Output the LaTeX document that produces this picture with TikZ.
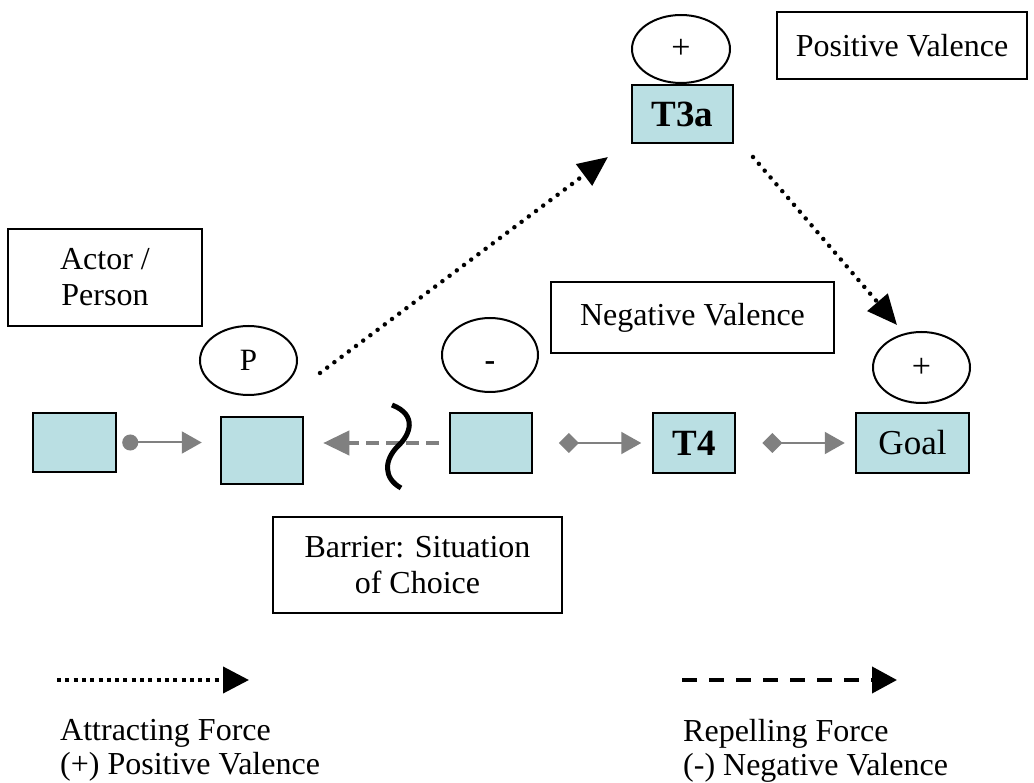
\documentclass[tikz,border=0pt]{standalone}
\usepackage{fontspec}
\setmainfont{Liberation Serif}
\usetikzlibrary{arrows.meta,shapes.geometric}
\definecolor{boxblue}{RGB}{186,223,227}
\definecolor{arrgray}{RGB}{128,128,128}
\tikzset{graytip/.tip={Triangle[length=20pt,width=22pt]}}
\begin{document}
\begin{tikzpicture}[x=1pt,y=-1pt,
  font=\fontsize{32}{36}\selectfont,
  bluebox/.style={draw=black, line width=2.5pt, fill=boxblue, inner sep=0pt, anchor=center},
  boldlabel/.style={font=\fontsize{37}{42}\selectfont\bfseries},
  textbox/.style={draw=black, line width=2pt, inner sep=0pt, align=center},
  valence/.style={ellipse, draw=black, line width=2pt, inner sep=0pt},
  grayline/.style={draw=arrgray, line width=2pt},
  dotarrow/.style={line width=4.5pt, line cap=round, dash pattern=on 0pt off 9pt, -{Triangle[length=30pt,width=26pt]}},
  legtext/.style={anchor=north west, inner sep=0pt, align=left, font=\fontsize{32}{34}\selectfont}
]
\fill[white] (0,0) rectangle (1034,783);
\useasboundingbox (0,0) rectangle (1034,783);

% row of boxes
\node[bluebox, minimum width=83pt, minimum height=59pt] (b0) at (74.5,442.5) {};
\node[bluebox, minimum width=82pt, minimum height=67pt] (bP) at (262,450.5) {};
\node[bluebox, minimum width=82pt, minimum height=60pt] (b3) at (491,443) {};
\node[bluebox, minimum width=82pt, minimum height=60pt, boldlabel] (bT4) at (694,443) {T4};
\node[bluebox, minimum width=113pt, minimum height=60pt, font=\fontsize{35}{40}\selectfont] (bGoal) at (912.5,443) {Goal};
\node[bluebox, minimum width=101pt, minimum height=58pt, boldlabel] (bT3a) at (682.5,114) {T3a};

% valence ellipses
\node[valence, minimum width=98pt, minimum height=68pt, font=\fontsize{34}{38}\selectfont] (eT3a) at (681,49) {+};
\node[valence, minimum width=97pt, minimum height=69pt, font=\fontsize{31}{36}\selectfont] (eP) at (248.5,360.5) {P};
\node[valence, minimum width=96pt, minimum height=74pt, text height=32pt, text depth=0pt, font=\fontsize{32}{36}\selectfont\bfseries] (eNeg) at (490,355) {-};
\node[valence, minimum width=97pt, minimum height=71pt, font=\fontsize{34}{38}\selectfont] (eGoal) at (921.5,367.5) {+};

% text boxes
\node[textbox, minimum width=194pt, minimum height=97pt] (actor) at (105,277.5) {Actor /\\Person};
\node[textbox, minimum width=283pt, minimum height=71pt] (neg) at (692.5,317.5) {Negative Valence};
\node[textbox, minimum width=250pt, minimum height=67pt] (pos) at (902,45.5) {Positive Valence};
\node[textbox, minimum width=289pt, minimum height=96pt] (barrier) at (417.5,565) {Barrier: Situation\\of Choice};

% gray arrows in the row
\draw[grayline, {Circle[length=16pt]}-{graytip}, shorten <=5pt, shorten >=18pt]
  (b0.east) -- (b0.east -| bP.west);
\draw[draw=arrgray, line width=4pt, dash pattern=on 13pt off 7pt, -{Triangle[length=26pt,width=24pt]}, shorten <=10pt, shorten >=19pt]
  (b3.west) -- (b3.west -| bP.east);
\draw[grayline, {Diamond[length=20pt,width=20pt]}-{graytip}, shorten <=25.5pt, shorten >=10.5pt]
  (b3.east) -- (bT4.west);
\draw[grayline, {Diamond[length=20pt,width=20pt]}-{graytip}, shorten <=26pt, shorten >=10pt]
  (bT4.east) -- (bGoal.west);

% barrier squiggle
\draw[line width=5pt] (392,405) .. controls (418,415) and (410,435) .. (398,446)
  .. controls (384,460) and (383,478) .. (401,488);

% attracting (dotted) arrows
\coordinate (d1s) at (320,373);
\coordinate (d1e) at (608,157);
\coordinate (d2s) at (753,157);
\coordinate (d2e) at (897,325);
\draw[dotarrow] (d1s) -- (d1e);
\draw[dotarrow] (d2s) -- (d2e);

% legend
\coordinate (la1) at (57,680);
\coordinate (la2) at (249,680);
\coordinate (lb1) at (682,680);
\coordinate (lb2) at (897,680);
\draw[line width=4pt, dash pattern=on 4pt off 4.3pt, -{Triangle[length=26pt,width=26pt]}] (la1) -- (la2);
\draw[line width=4pt, dash pattern=on 15pt off 12pt, -{Triangle[length=25pt,width=26pt]}] (lb1) -- (lb2);
\node[legtext] (legA) at (60,719) {Attracting Force\\(+) Positive Valence};
\node[legtext] (legB) at (683,719) {Repelling Force\\(-) Negative Valence};
\end{tikzpicture}
\end{document}
